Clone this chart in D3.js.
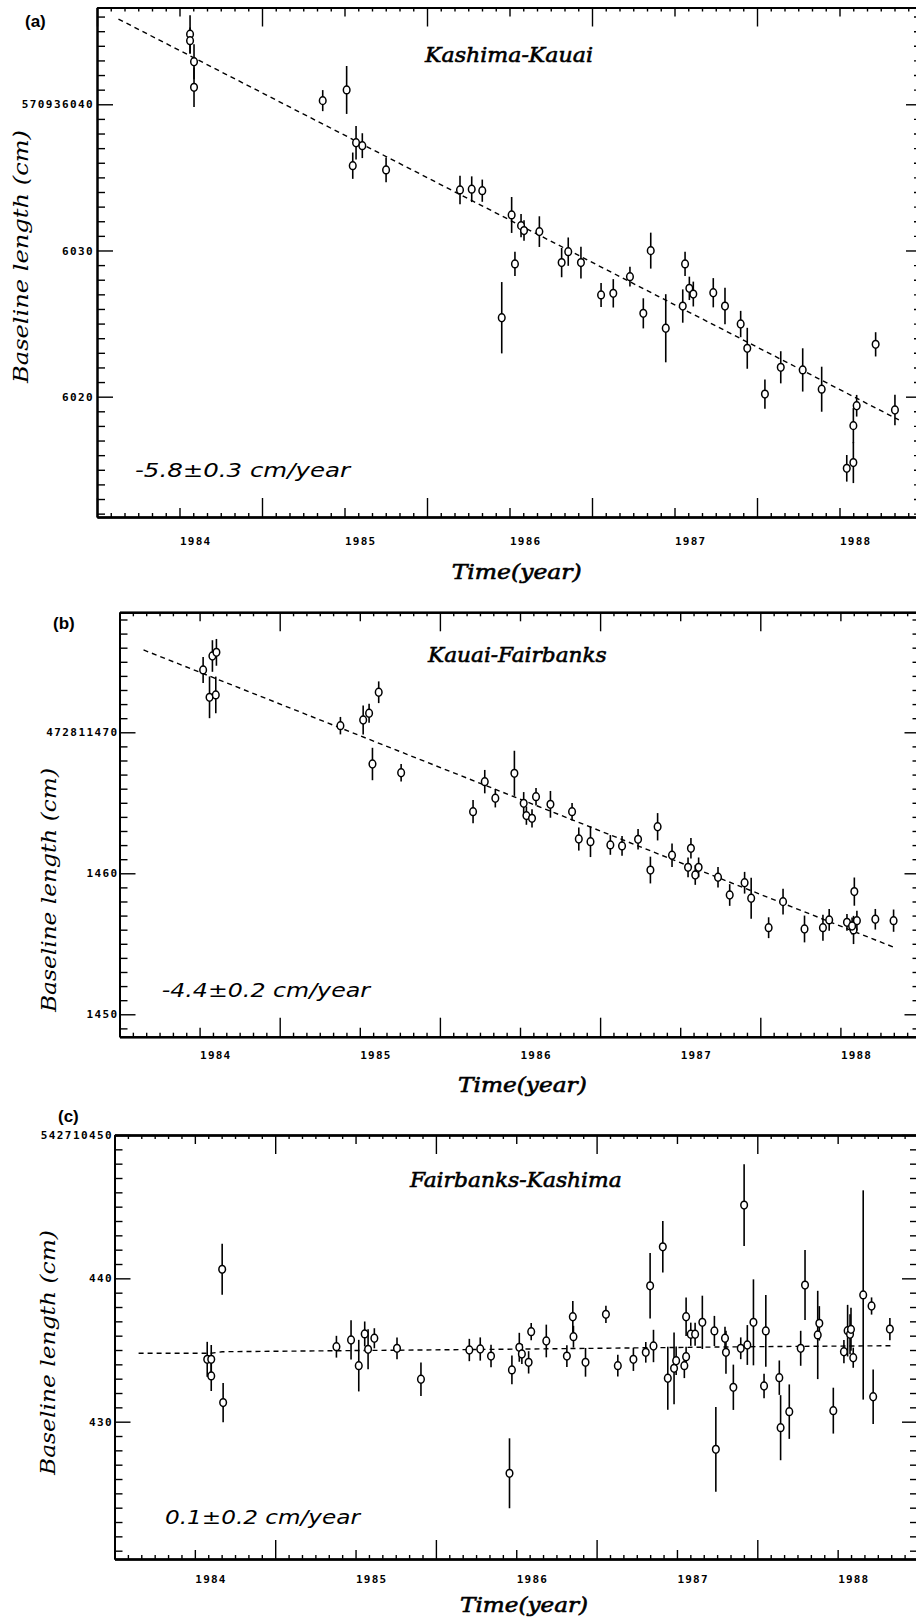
<!DOCTYPE html>
<html><head><meta charset="utf-8">
<script src="https://cdn.jsdelivr.net/npm/d3@7"></script>
<style>
body{margin:0;background:#fff}
svg{display:block;background:#fff}
.tick line{stroke:#000;stroke-width:1.4}
.domain{stroke:#000;stroke-width:2;fill:none}
.lbl text{font-family:"DejaVu Sans Mono",monospace;font-weight:bold;font-size:11px;fill:#000}
</style>
</head><body>
<svg id="chart" width="916" height="1617"></svg>
<script>
// ---------------- data ----------------
const xDomain = [1983.5, 1988.5];
const yearTicks = [1984, 1985, 1986, 1987, 1988];

// (a) Kashima-Kauai
const timeA = [1984.064,1984.064,1984.088,1984.088,1984.868,1985.013,1985.070,1985.050,1985.108,1985.252,1985.700,1985.771,1985.835,1986.013,1986.033,1986.070,1986.088,1986.181,1986.316,1986.356,1986.433,1986.555,1986.629,1986.730,1986.856,1986.811,1986.947,1987.064,1987.050,1987.090,1987.114,1987.235,1987.306,1987.401,1987.441,1987.548,1987.644,1987.777,1987.892,1988.044,1988.084,1988.084,1988.104,1988.219,1988.336,1985.953];
const valueA = [6044.79,6044.35,6042.91,6041.16,6040.25,6040.98,6037.37,6035.80,6037.17,6035.51,6034.14,6034.19,6034.09,6032.43,6029.08,6031.70,6031.36,6031.29,6029.17,6029.92,6029.17,6026.96,6027.07,6028.21,6029.99,6025.70,6024.68,6029.08,6026.20,6027.41,6027.02,6027.11,6026.20,6024.97,6023.31,6020.18,6022.01,6021.83,6020.51,6015.10,6015.49,6018.02,6019.38,6023.58,6019.09,6025.40];
const errorA = [1.3,0.9,1.2,1.35,0.72,1.64,1.15,0.9,0.85,0.85,0.97,0.88,0.76,1.23,0.83,0.8,0.7,1.05,1.0,0.97,1.08,0.82,0.97,0.68,1.23,1.03,2.33,0.83,1.14,0.8,0.85,1.0,1.25,0.9,1.4,1.0,1.1,1.48,1.54,0.91,1.4,1.2,0.74,0.83,1.05,2.44];
const fitTimeA = [1983.63, 1988.36];
const fitValueA = [6045.83, 6018.41];
const yDomainA = [6011.77, 6046.62];
const majorA = [6040, 6030, 6020];
const majorLabelA = ["570936040", "6030", "6020"];

// (b) Kauai-Fairbanks
const timeB = [1984.022,1984.062,1984.080,1984.105,1984.101,1984.879,1985.021,1985.058,1985.118,1985.079,1985.258,1985.707,1985.780,1985.846,1985.965,1986.023,1986.040,1986.075,1986.100,1986.190,1986.325,1986.367,1986.440,1986.564,1986.637,1986.737,1986.859,1986.814,1986.949,1987.067,1987.049,1987.115,1987.094,1987.236,1987.309,1987.402,1987.443,1987.552,1987.642,1987.776,1987.891,1987.930,1988.041,1988.082,1988.087,1988.103,1988.073,1988.218,1988.332];
const valueB = [1474.42,1472.48,1475.41,1475.67,1472.65,1470.47,1470.87,1471.35,1472.84,1467.75,1467.13,1464.37,1466.50,1465.32,1467.09,1464.96,1464.09,1463.90,1465.43,1464.89,1464.37,1462.43,1462.24,1462.01,1461.94,1462.41,1463.30,1460.23,1461.28,1461.77,1460.42,1460.42,1459.88,1459.72,1458.46,1459.33,1458.23,1456.14,1457.99,1456.05,1456.14,1456.69,1456.52,1455.98,1458.70,1456.64,1456.26,1456.74,1456.64];
const errorB = [0.92,1.48,1.12,0.95,1.3,0.62,1.03,0.67,0.77,1.15,0.62,0.83,0.83,0.65,1.6,0.8,0.65,0.65,0.62,0.95,0.62,0.82,1.09,0.7,0.7,0.73,0.97,0.95,0.83,0.73,0.7,0.7,0.7,0.73,0.77,0.77,1.45,0.74,0.91,0.95,0.92,0.77,0.6,1.0,1.0,0.7,0.6,0.73,0.79];
const fitTimeB = [1983.65, 1988.35];
const fitValueB = [1475.84, 1454.68];
const yDomainB = [1448.41, 1478.51];
const majorB = [1470, 1460, 1450];
const majorLabelB = ["472811470", "1460", "1450"];

// (c) Fairbanks-Kashima
const timeC = [1984.077,1984.102,1984.102,1984.170,1984.176,1984.881,1984.972,1985.020,1985.057,1985.078,1985.117,1985.258,1985.407,1985.708,1985.776,1985.843,1985.973,1986.019,1986.035,1986.077,1986.093,1986.187,1986.315,1986.352,1986.356,1986.431,1986.558,1986.632,1986.729,1986.806,1986.833,1986.854,1986.912,1986.943,1986.982,1986.995,1987.046,1987.057,1987.057,1987.086,1987.113,1987.158,1987.233,1987.299,1987.305,1987.351,1987.397,1987.418,1987.438,1987.476,1987.542,1987.553,1987.637,1987.645,1987.699,1987.242,1987.770,1987.797,1987.876,1987.886,1987.973,1988.039,1988.062,1988.077,1988.083,1988.097,1988.159,1988.211,1988.221,1988.325,1985.958];
const valueC = [434.35,434.35,433.19,440.63,431.33,435.23,435.70,433.91,436.12,435.05,435.82,435.12,432.96,435.00,435.07,434.58,433.61,435.19,434.72,434.14,436.28,435.63,434.58,437.32,435.93,434.14,437.49,433.91,434.35,434.84,439.48,435.28,442.20,433.03,433.72,434.25,433.91,434.53,437.32,436.10,436.10,436.93,436.33,435.82,434.84,432.40,435.12,445.11,435.35,436.93,432.49,436.33,433.07,429.58,430.70,428.07,435.12,439.53,436.05,436.86,430.77,434.88,436.35,436.10,436.44,434.46,438.84,438.07,431.74,436.46,426.40];
const errorC = [1.22,1.0,1.05,1.78,1.37,0.76,1.37,1.8,0.87,1.39,0.7,0.76,1.16,0.78,0.81,0.78,1.0,1.01,0.7,0.78,0.6,1.14,0.76,1.1,0.76,1.0,0.6,0.76,0.81,0.72,2.29,1.13,1.8,2.2,2.5,1.0,0.87,0.7,1.34,0.81,0.81,1.86,1.05,0.8,1.5,1.58,0.76,2.85,1.39,3.0,0.86,2.5,1.2,2.27,1.9,2.96,1.22,2.44,3.08,1.2,1.6,0.81,1.8,1.4,1.5,0.7,7.3,0.6,1.9,0.78,2.44];
const fitTimeC = [1983.65, 1984.10, 1984.17, 1985.90, 1987.45, 1988.35];
const fitValueC = [434.77, 434.77, 434.88, 435.05, 435.23, 435.30];
const yDomainC = [420.42, 450];
const majorC = [450, 440, 430];
const majorLabelC = ["542710450", "440", "430"];

// ---------------- panels ----------------
const panels = [
  {letter:"(a)", title:"Kashima-Kauai", rate:"-5.8±0.3 cm/year",
   time:timeA, value:valueA, error:errorA, fitT:fitTimeA, fitV:fitValueA,
   yDomain:yDomainA, major:majorA, majorLabel:majorLabelA,
   L:{left:97, right:922, top:7.5, bottom:517, xPad:20, yPad:3,
      letter:[25,27], title:[425,62,168], rate:[135,477,215], time:[451.7,579,130], ylab:[28,383,253]}},
  {letter:"(b)", title:"Kauai-Fairbanks", rate:"-4.4±0.2 cm/year",
   time:timeB, value:valueB, error:errorB, fitT:fitTimeB, fitV:fitValueB,
   yDomain:yDomainB, major:majorB, majorLabel:majorLabelB,
   L:{left:119.5, right:920.5, top:612.3, bottom:1036.7, xPad:15, yPad:1,
      letter:[53,629], title:[428,661.7,178.7], rate:[161.7,996.7,208.3], time:[458,1091.7,128.7], ylab:[56,1012,244]}},
  {letter:"(c)", title:"Fairbanks-Kashima", rate:"0.1±0.2 cm/year",
   time:timeC, value:valueC, error:errorC, fitT:fitTimeC, fitV:fitValueC,
   yDomain:yDomainC, major:majorC, majorLabel:majorLabelC,
   L:{left:114.5, right:918, top:1135, bottom:1559, xPad:16, yPad:1.5,
      letter:[58,1122], title:[410,1187,211.7], rate:[165,1523.5,195], time:[460,1611.7,128], ylab:[54.5,1475,245]}}
];

const svg = d3.select("#chart");

// monthly ticks
const months = d3.range(0, 61).map(i => xDomain[0] + i / 12);
const isYear = t => Math.abs(t - Math.round(t)) < 1e-6;
const isHalf = t => Math.abs(t - Math.floor(t) - 0.5) < 1e-6;
const smallX = months.filter(t => !isYear(t) && !isHalf(t));
const yearX = months.filter(isYear);
const halfX = months.filter(isHalf);

panels.forEach(p => {
  const L = p.L;
  const g = svg.append("g");
  const x = d3.scaleLinear().domain(xDomain).range([L.left, L.right]);
  const y = d3.scaleLinear().domain(p.yDomain).range([L.bottom, L.top]);

  const minorY = d3.range(Math.ceil(p.yDomain[0]), Math.floor(p.yDomain[1]) + 1)
    .filter(v => !p.major.includes(v));

  const addAxis = (axis, tr) => g.append("g").attr("transform", tr).call(axis);

  // bottom/top axes (ticks inward)
  [[smallX, 4], [yearX, 9], [halfX, 19]].forEach(([vals, s]) => {
    addAxis(d3.axisBottom(x).tickValues(vals).tickSizeInner(-s).tickSizeOuter(0).tickFormat(""), `translate(0,${L.bottom})`);
    addAxis(d3.axisTop(x).tickValues(vals).tickSizeInner(-s).tickSizeOuter(0).tickFormat(""), `translate(0,${L.top})`);
  });
  // year labels (start-aligned at tick)
  const xl = addAxis(d3.axisBottom(x).tickValues(yearTicks).tickSize(0).tickPadding(L.xPad).tickFormat(d3.format("d")), `translate(0,${L.bottom})`);
  xl.attr("class", "lbl");
  xl.select(".domain").remove();
  xl.selectAll("text").attr("text-anchor", "start").style("letter-spacing", "1.2px").style("font-size", "11px");

  // left axis
  addAxis(d3.axisLeft(y).tickValues(minorY).tickSizeInner(-8).tickSizeOuter(0).tickFormat(""), `translate(${L.left},0)`);
  const yl = addAxis(d3.axisLeft(y).tickValues(p.major).tickSizeInner(-16).tickSizeOuter(0).tickPadding(L.yPad)
      .tickFormat((d, i) => p.majorLabel[i]), `translate(${L.left},0)`);
  yl.attr("class", "lbl");
  yl.selectAll("text").style("letter-spacing", "1.4px");
  // right axis
  addAxis(d3.axisRight(y).tickValues(minorY).tickSizeInner(-8).tickSizeOuter(0).tickFormat(""), `translate(${L.right},0)`);
  addAxis(d3.axisRight(y).tickValues(p.major).tickSizeInner(-16).tickSizeOuter(0).tickFormat(""), `translate(${L.right},0)`);

  // fit line
  const fit = p.fitT.map((t, i) => [t, p.fitV[i]]);
  g.append("path").datum(fit)
    .attr("d", d3.line().x(d => x(d[0])).y(d => y(d[1])))
    .attr("fill", "none").attr("stroke", "#000").attr("stroke-width", 1.4)
    .attr("stroke-dasharray", "5,4");

  // data
  const pts = p.time.map((t, i) => ({t, v: p.value[i], e: p.error[i]}));
  g.append("g").selectAll("line").data(pts).join("line")
    .attr("x1", d => x(d.t)).attr("x2", d => x(d.t))
    .attr("y1", d => y(d.v - d.e)).attr("y2", d => y(d.v + d.e))
    .attr("stroke", "#000").attr("stroke-width", 1.6);
  g.append("g").selectAll("ellipse").data(pts).join("ellipse")
    .attr("cx", d => x(d.t)).attr("cy", d => y(d.v))
    .attr("rx", 3.3).attr("ry", 3.9)
    .attr("fill", "#fff").attr("stroke", "#000").attr("stroke-width", 1.5);

  // texts
  g.append("text").attr("x", L.letter[0]).attr("y", L.letter[1]).text(p.letter)
    .style("font-family", "'Liberation Sans', Arial, sans-serif").style("font-weight", "bold").style("font-size", "17px");
  g.append("text").attr("x", L.title[0]).attr("y", L.title[1]).text(p.title)
    .attr("textLength", L.title[2]).attr("lengthAdjust", "spacingAndGlyphs")
    .style("font-family", "'DejaVu Serif', serif").style("font-style", "italic").style("font-size", "21px")
    .attr("stroke", "#000").attr("stroke-width", 0.6);
  g.append("text").attr("x", L.rate[0]).attr("y", L.rate[1]).text(p.rate)
    .attr("textLength", L.rate[2]).attr("lengthAdjust", "spacingAndGlyphs")
    .style("font-family", "'DejaVu Sans', sans-serif").style("font-style", "italic").style("font-size", "20px");
  g.append("text").attr("x", L.time[0]).attr("y", L.time[1]).text("Time(year)")
    .attr("textLength", L.time[2]).attr("lengthAdjust", "spacingAndGlyphs")
    .style("font-family", "'DejaVu Serif', serif").style("font-style", "italic").style("font-size", "20px")
    .attr("stroke", "#000").attr("stroke-width", 0.6);
  g.append("text").attr("transform", `translate(${L.ylab[0]},${L.ylab[1]}) rotate(-90)`)
    .text("Baseline length (cm)")
    .attr("textLength", L.ylab[2]).attr("lengthAdjust", "spacingAndGlyphs")
    .style("font-family", "'DejaVu Serif', serif").style("font-style", "italic").style("font-size", "21px");
});
</script>
</body></html>
